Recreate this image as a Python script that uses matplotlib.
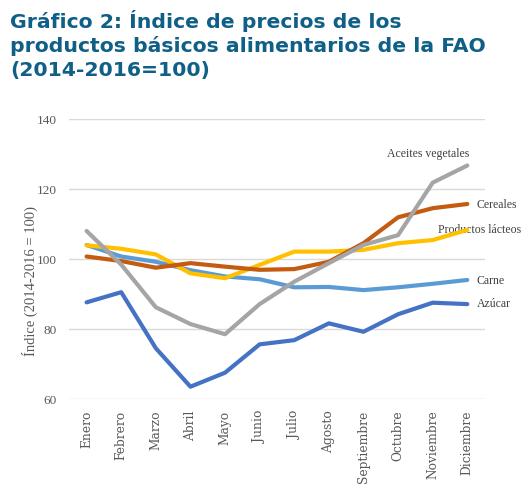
import matplotlib
matplotlib.use("Agg")
import matplotlib.pyplot as plt

meses = ["Enero", "Febrero", "Marzo", "Abril", "Mayo", "Junio", "Julio",
         "Agosto", "Septiembre", "Octubre", "Noviembre", "Diciembre"]
carne = [104.1, 100.8, 99.3, 96.9, 95.1, 94.3, 92.0, 92.1, 91.2, 92.0, 93.0, 94.1]
lacteos = [104.0, 103.0, 101.4, 96.0, 94.6, 98.4, 102.2, 102.2, 102.7, 104.6, 105.5, 108.4]
cereales = [100.8, 99.5, 97.6, 98.9, 97.9, 97.0, 97.2, 99.3, 104.6, 112.0, 114.6, 115.8]
aceites = [108.1, 98.5, 86.3, 81.5, 78.6, 87.2, 93.6, 98.9, 104.1, 106.9, 121.9, 126.8]
azucar = [87.7, 90.6, 74.6, 63.6, 67.6, 75.7, 76.9, 81.7, 79.3, 84.3, 87.6, 87.2]
yticks = [60, 80, 100, 120, 140]

W, H = 532, 498
fig = plt.figure(figsize=(W / 100, H / 100), dpi=100)
ax = fig.add_axes([69.3 / W, 1 - 399.3 / H, (484.6 - 69.3) / W, 280 / H])

x = list(range(len(meses)))
series = [
    (carne, "#5B9BD5"),
    (lacteos, "#FFC000"),
    (cereales, "#C55A11"),
    (aceites, "#A5A5A5"),
    (azucar, "#4472C4"),
]
for vals, col in series:
    ax.plot(x, vals, color=col, lw=3.0, solid_capstyle="round",
            solid_joinstyle="round", zorder=3)

ax.set_xlim(-0.5, 11.5)
ax.set_ylim(60, 140)
ax.set_yticks(yticks)
ax.set_yticklabels([str(v) for v in yticks], family="Liberation Serif",
                   fontsize=9.5, color="#595959")
ax.set_xticks(x)
ax.set_xticklabels(meses, rotation=90, family="DejaVu Serif",
                   fontsize=8.8, color="#595959", va="top")
ax.tick_params(axis="both", length=0)
ax.tick_params(axis="y", pad=9)
ax.tick_params(axis="x", pad=8)
ax.grid(axis="y", color="#D9D9D9", lw=1.0, zorder=0)
for s in ax.spines.values():
    s.set_visible(False)

lab = dict(family="Liberation Serif", fontsize=8.5, color="#404040", va="center")
ax.text(9.86, 130.1, "Aceites vegetales", ha="center", **lab)
ax.text(11.28, 115.5, "Cereales", ha="left", **lab)
ax.text(10.15, 108.3, "Productos lácteos", ha="left", zorder=2, **lab)
ax.text(11.28, 93.8, "Carne", ha="left", **lab)
ax.text(11.28, 87.2, "Azúcar", ha="left", **lab)

fig.text(30 / W, 1 - 281 / H, "Índice (2014-2016 = 100)", rotation=90,
         family="Liberation Serif", fontsize=10.5, color="#595959",
         ha="center", va="center")

title = "Gráfico 2: Índice de precios de los\nproductos básicos alimentarios de la FAO\n(2014-2016=100)"
fig.text(10 / W, 1 - 10 / H, title, family="DejaVu Sans", fontweight="bold",
         fontsize=14.7, color="#0F5F86", ha="left", va="top", linespacing=1.28)

fig.savefig("out.png", dpi=100)
